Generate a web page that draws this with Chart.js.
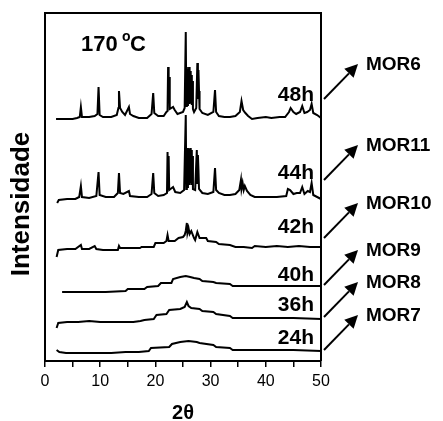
<!DOCTYPE html>
<html>
<head>
<meta charset="utf-8">
<script src="https://cdn.jsdelivr.net/npm/chart.js@4/dist/chart.umd.min.js"></script>
<style>
  body { margin: 0; background: #fff; }
</style>
</head>
<body>
<canvas id="chart" width="443" height="421"></canvas>
<script>
const samples = ["MOR6", "MOR11", "MOR10", "MOR9", "MOR8", "MOR7"];
const times = ["48h", "44h", "42h", "40h", "36h", "24h"];
const xTicks = [0, 10, 20, 30, 40, 50];

// [2θ, intensidade] - curves already stacked, arbitrary units
const mor6 = [
  [2.0, 242], [3.5, 242], [5.0, 242], [5.8, 243], [6.3, 244], [6.5, 254], [6.7, 244],
  [8.0, 244], [9.0, 245], [9.5, 247], [9.7, 274], [9.9, 246], [10.5, 244], [12.0, 244],
  [13.0, 246], [13.3, 253], [13.4, 270], [13.6, 253], [14.0, 249], [14.5, 246], [15.2, 254],
  [15.4, 247], [16.0, 245], [17.0, 243], [18.5, 243], [19.3, 247], [19.6, 268], [19.8, 248],
  [20.5, 245], [21.5, 245], [22.0, 249], [22.2, 250], [22.3, 294], [22.4, 260], [22.5, 284],
  [22.6, 252], [23.2, 254], [23.5, 251], [24.0, 247], [25.0, 249], [25.3, 253], [25.5, 329],
  [25.6, 255], [25.7, 294], [25.8, 256], [25.9, 292], [26.0, 258], [26.1, 294], [26.2, 257],
  [26.3, 290], [26.4, 258], [26.5, 286], [26.6, 256], [26.7, 280], [26.8, 252], [27.0, 249],
  [27.4, 253], [27.5, 253], [27.6, 298], [27.7, 262], [27.8, 291], [27.9, 270], [28.0, 252],
  [28.5, 248], [29.5, 246], [30.5, 249], [30.8, 271], [31.0, 249], [31.5, 245], [32.5, 244],
  [33.5, 244], [34.5, 245], [35.3, 249], [35.6, 260], [35.9, 251], [36.3, 248], [36.8, 245],
  [37.5, 242], [38.5, 243], [40.0, 244], [41.0, 243], [42.5, 244], [43.5, 244], [44.2, 249],
  [44.5, 253], [45.0, 249], [45.5, 247], [46.2, 249], [46.6, 255], [47.0, 248], [47.5, 249],
  [48.0, 251], [48.3, 257], [48.6, 248], [49.3, 246], [50.0, 243]
];
const mor11 = [
  [2.2, 158], [2.5, 161], [4.0, 162], [5.5, 162], [6.2, 164], [6.5, 175], [6.7, 164],
  [8.0, 163], [9.3, 165], [9.7, 189], [9.9, 166], [11.0, 164], [12.5, 164], [13.2, 168],
  [13.4, 188], [13.6, 168], [14.2, 167], [15.2, 170], [15.4, 165], [17.0, 164], [18.5, 164],
  [19.3, 167], [19.6, 188], [19.8, 168], [20.5, 165], [21.5, 166], [22.1, 168], [22.2, 209],
  [22.3, 172], [22.4, 205], [22.5, 171], [23.2, 174], [23.6, 169], [24.5, 168], [25.2, 171],
  [25.5, 246], [25.6, 172], [25.7, 213], [25.8, 174], [25.9, 213], [26.0, 176], [26.1, 212],
  [26.2, 176], [26.3, 213], [26.4, 178], [26.5, 211], [26.6, 176], [26.7, 205], [26.8, 172],
  [27.2, 171], [27.5, 211], [27.6, 178], [27.7, 206], [27.8, 191], [27.9, 172], [28.5, 168],
  [29.5, 167], [30.5, 169], [30.8, 193], [31.0, 171], [31.5, 168], [32.5, 166], [33.5, 166],
  [34.5, 167], [35.2, 171], [35.5, 181], [35.6, 172], [35.8, 178], [36.0, 171], [36.2, 175],
  [36.6, 170], [37.2, 166], [38.0, 164], [40.0, 164], [42.0, 164], [43.7, 165], [44.0, 172],
  [44.4, 171], [45.0, 167], [45.6, 168], [46.2, 168], [46.6, 174], [47.0, 167], [47.6, 170],
  [48.0, 169], [48.3, 178], [48.6, 166], [49.3, 164], [50.0, 162]
];
const mor10 = [
  [2.1, 104], [2.4, 111], [4.0, 112], [5.5, 112], [6.5, 116], [6.7, 112], [8.0, 112],
  [9.0, 115], [9.3, 112], [10.5, 111], [12.0, 111], [13.2, 111], [13.4, 115], [13.6, 113],
  [15.5, 113], [17.2, 113], [17.5, 114], [19.7, 114], [20.0, 118], [21.5, 118], [22.0, 120],
  [22.2, 126], [22.4, 120], [23.5, 120], [24.2, 123], [25.0, 124], [25.3, 126], [25.5, 130],
  [25.7, 138], [25.8, 128], [26.0, 133], [26.2, 127], [26.5, 130], [27.0, 123], [27.2, 121],
  [27.6, 129], [28.0, 123], [29.2, 123], [29.5, 120], [31.0, 119], [31.5, 117], [33.5, 116],
  [34.5, 114], [36.0, 114], [37.5, 113], [38.0, 115], [40.0, 114], [42.0, 115], [44.0, 114],
  [46.0, 115], [48.0, 114], [50.0, 114]
];
const mor9 = [
  [3.1, 69], [5.0, 69], [8.0, 69], [11.0, 69], [14.6, 70], [15.0, 72], [18.0, 72],
  [18.5, 74], [20.5, 75], [21.0, 78], [22.9, 78], [23.2, 82], [24.5, 84], [25.5, 85],
  [26.3, 84], [27.0, 83], [28.0, 82], [28.5, 80], [30.5, 79], [31.0, 78], [33.5, 77],
  [34.0, 75], [38.0, 75], [42.0, 75], [46.0, 75], [50.0, 75]
];
const mor8 = [
  [2.1, 33], [2.4, 38], [4.0, 39], [6.0, 39], [8.0, 40], [10.0, 39], [12.0, 39],
  [14.0, 39], [16.0, 39], [17.3, 40], [18.0, 41], [19.7, 42], [20.2, 46], [22.0, 47],
  [22.5, 51], [24.5, 52], [25.3, 54], [25.7, 59], [26.0, 55], [26.5, 53], [28.0, 52],
  [28.5, 50], [30.5, 49], [31.0, 47], [33.5, 45], [34.0, 43], [40.0, 43], [45.0, 43],
  [50.0, 42]
];
const mor7 = [
  [2.1, 11], [2.6, 9], [3.8, 8], [6.0, 8], [9.0, 8], [12.0, 8], [14.6, 9], [17.0, 9],
  [18.8, 10], [19.2, 13], [22.5, 14], [23.0, 17], [24.5, 19], [26.0, 20], [27.5, 19],
  [28.0, 18], [30.5, 16], [31.0, 14], [33.5, 13], [34.0, 11], [40.0, 11], [45.0, 11],
  [50.0, 10]
];
const curves = [mor6, mor11, mor10, mor9, mor8, mor7];

// where the time labels and the arrows sit, in y units
const timeLevels = [266, 188, 134, 86, 56, 23];
const arrowLevels = [262, 181, 123, 76, 44, 11];

const BOLD = '"Liberation Sans", Arial, sans-serif';

const notes = {
  id: "notes",
  afterDraw(chart) {
    const ctx = chart.ctx;
    const area = chart.chartArea;
    const ys = chart.scales.y;
    ctx.save();
    ctx.strokeStyle = "#000";
    ctx.fillStyle = "#000";

    // top and right side of the frame
    ctx.lineWidth = 2;
    ctx.beginPath();
    ctx.moveTo(area.left, area.top);
    ctx.lineTo(area.right, area.top);
    ctx.lineTo(area.right, area.bottom);
    ctx.stroke();

    // y title
    ctx.save();
    ctx.translate(22, 204);
    ctx.rotate(-Math.PI / 2);
    ctx.font = "bold 26px " + BOLD;
    ctx.textAlign = "center";
    ctx.textBaseline = "middle";
    ctx.fillText("Intensidade", 0, 0);
    ctx.restore();

    // temperature
    ctx.textBaseline = "alphabetic";
    ctx.textAlign = "left";
    ctx.font = "bold 22px " + BOLD;
    ctx.fillText("170", area.left + 36, 51);
    ctx.font = "bold 14px " + BOLD;
    ctx.fillText("o", area.left + 77, 41);
    ctx.font = "bold 22px " + BOLD;
    ctx.fillText("C", area.left + 85, 51);

    // time labels
    ctx.textAlign = "right";
    ctx.textBaseline = "middle";
    ctx.font = "bold 21px " + BOLD;
    times.forEach((t, i) => {
      ctx.fillText(t, area.right - 7, ys.getPixelForValue(timeLevels[i]));
    });

    // arrows and sample names
    ctx.lineWidth = 2;
    samples.forEach((s, i) => {
      const x0 = area.right + 3;
      const y0 = ys.getPixelForValue(arrowLevels[i]);
      const x1 = x0 + 34;
      const y1 = y0 - 35;
      const a = Math.atan2(y1 - y0, x1 - x0);
      const len = 13, half = 6.5;
      const bx = x1 - len * Math.cos(a), by = y1 - len * Math.sin(a);
      ctx.beginPath();
      ctx.moveTo(x0, y0);
      ctx.lineTo(bx, by);
      ctx.stroke();
      ctx.beginPath();
      ctx.moveTo(x1, y1);
      ctx.lineTo(bx + half * Math.sin(a), by - half * Math.cos(a));
      ctx.lineTo(bx - half * Math.sin(a), by + half * Math.cos(a));
      ctx.closePath();
      ctx.fill();
      ctx.font = "bold 19px " + BOLD;
      ctx.textAlign = "left";
      ctx.fillText(s, x1 + 8, y1 + 1);
    });
    ctx.restore();
  }
};

new Chart(document.getElementById("chart"), {
  type: "line",
  data: {
    datasets: curves.map((c, i) => ({
      label: samples[i],
      data: c.map(p => ({ x: p[0], y: p[1] })),
      borderColor: "#000",
      borderWidth: 2,
      pointRadius: 0,
      tension: 0,
      fill: false
    }))
  },
  options: {
    responsive: false,
    animation: false,
    devicePixelRatio: 1,
    layout: { padding: { left: 0, top: 13, right: 122, bottom: 0 } },
    plugins: { legend: { display: false }, tooltip: { enabled: false } },
    scales: {
      x: {
        type: "linear",
        min: 0,
        max: 50,
        afterFit: s => { s.height = 60; },
        afterBuildTicks: s => {
          s.ticks = [];
          for (let v = 0; v <= 50; v += 5) s.ticks.push({ value: v });
        },
        ticks: {
          autoSkip: false,
          maxRotation: 0,
          padding: 5,
          color: "#000",
          font: { family: '"Liberation Sans", Arial, sans-serif', size: 16 },
          callback: v => (xTicks.includes(v) ? String(v) : "")
        },
        grid: { drawOnChartArea: false, drawTicks: true, tickLength: 6, color: "#000", lineWidth: 1.5 },
        border: { display: true, color: "#000", width: 2 },
        title: {
          display: true,
          text: "2θ",
          color: "#000",
          padding: { top: 0, bottom: 0 },
          font: { family: BOLD, size: 20, weight: "bold", lineHeight: 0.8 }
        }
      },
      y: {
        min: 0,
        max: 348,
        afterFit: s => { s.width = 45; },
        ticks: { display: false },
        grid: { display: false },
        border: { display: true, color: "#000", width: 2 }
      }
    }
  },
  plugins: [notes]
});
</script>
</body>
</html>
